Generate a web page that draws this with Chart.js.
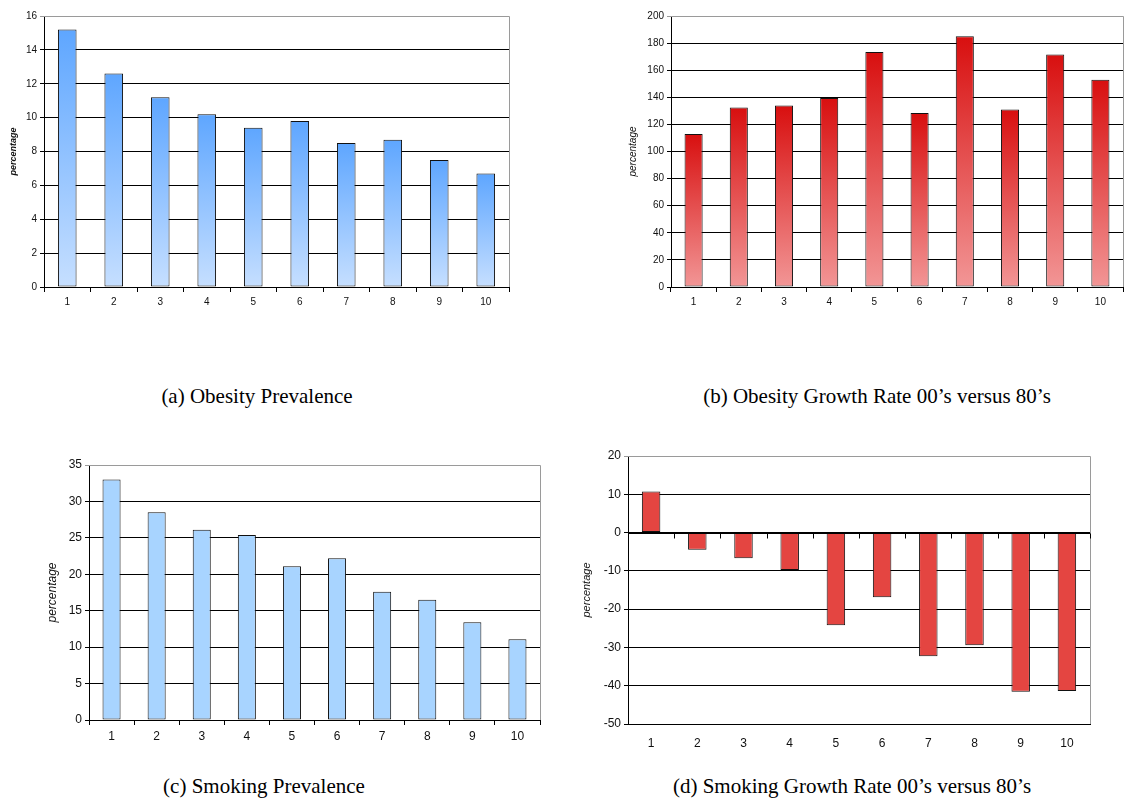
<!DOCTYPE html>
<html>
<head>
<meta charset="utf-8">
<script src="https://cdn.jsdelivr.net/npm/chart.js@4.4.1/dist/chart.umd.min.js"></script>
<style>
  body { margin: 0; background: #fff; width: 1135px; height: 799px; position: relative; overflow: hidden; }
  canvas { position: absolute; }
  .cap { position: absolute; font-family: "Liberation Serif", "Times New Roman", serif; font-size: 21px; color: #000; white-space: nowrap; transform: translate(-50%, -50%); }
</style>
</head>
<body>
<canvas id="chartA" width="525" height="310" style="left:0px;top:0px"></canvas>
<canvas id="chartB" width="545" height="310" style="left:590px;top:0px"></canvas>
<canvas id="chartC" width="520" height="310" style="left:30px;top:450px"></canvas>
<canvas id="chartD" width="530" height="320" style="left:570px;top:440px"></canvas>
<div class="cap" id="capA" style="left:257px;top:396px"></div>
<div class="cap" id="capB" style="left:877px;top:396px"></div>
<div class="cap" id="capC" style="left:264px;top:786px"></div>
<div class="cap" id="capD" style="left:852px;top:786px"></div>
<script>
// data
const groups = ['1', '2', '3', '4', '5', '6', '7', '8', '9', '10'];
const obesityPrevalence = [15.2, 12.6, 11.2, 10.2, 9.4, 9.8, 8.5, 8.7, 7.5, 6.7];
const obesityGrowth = [113, 132.5, 134, 139.5, 173.5, 128.5, 185, 131, 171.5, 153];
const smokingPrevalence = [33.0, 28.5, 26.1, 25.4, 21.1, 22.2, 17.6, 16.5, 13.4, 11.1];
const smokingGrowth = [10.7, -4.5, -6.7, -9.8, -24.2, -16.9, -32.3, -29.4, -41.6, -41.4];
const captions = [
  '(a) Obesity Prevalence',
  '(b) Obesity Growth Rate 00\u2019s versus 80\u2019s',
  '(c) Smoking Prevalence',
  '(d) Smoking Growth Rate 00\u2019s versus 80\u2019s'
];
const axisTitle = 'percentage';

document.getElementById('capA').textContent = captions[0];
document.getElementById('capB').textContent = captions[1];
document.getElementById('capC').textContent = captions[2];
document.getElementById('capD').textContent = captions[3];

// vertical gradient per bar, dark at the top, light at the base
function barGradient(top, bottom) {
  return function (c) {
    const chart = c.chart;
    if (!chart.chartArea || !c.parsed) return top;
    const y = chart.scales.y;
    const g = chart.ctx.createLinearGradient(0, y.getPixelForValue(c.parsed.y), 0, y.getPixelForValue(0));
    g.addColorStop(0, top);
    g.addColorStop(1, bottom);
    return g;
  };
}

// grey frame on top/right, and tick marks on the zero line for chart d
const framePlugin = {
  id: 'frame',
  afterDraw(chart, args, opts) {
    const a = chart.chartArea, ctx = chart.ctx;
    ctx.save();
    ctx.lineWidth = 1;
    ctx.strokeStyle = '#9a9a9a';
    ctx.beginPath();
    ctx.moveTo(a.left, Math.round(a.top) + 0.5);
    ctx.lineTo(Math.round(a.right) + 0.5, Math.round(a.top) + 0.5);
    ctx.lineTo(Math.round(a.right) + 0.5, Math.round(a.bottom));
    ctx.stroke();
    if (opts.zeroTicks) {
      const xs = chart.scales.x, y0 = Math.round(chart.scales.y.getPixelForValue(0)) + 0.5;
      ctx.strokeStyle = '#000';
      ctx.beginPath();
      ctx.moveTo(a.left, y0);
      ctx.lineTo(a.right, y0);
      for (let i = 0; i <= groups.length; i++) {
        const x = Math.round(xs.getPixelForValue(i - 0.5)) + 0.5;
        ctx.moveTo(x, y0);
        ctx.lineTo(x, y0 + 5);
      }
      ctx.stroke();
    }
    ctx.restore();
  }
};

function makeChart(id, values, o) {
  return new Chart(document.getElementById(id), {
    type: 'bar',
    data: {
      labels: groups,
      datasets: [{
        data: values,
        backgroundColor: o.color,
        borderColor: '#111',
        borderWidth: 1,
        borderSkipped: false,
        barPercentage: 0.4,
        categoryPercentage: 1
      }]
    },
    plugins: [framePlugin],
    options: {
      responsive: false,
      animation: false,
      devicePixelRatio: 1,
      layout: { padding: { top: o.top, right: o.right, left: 0, bottom: 0 } },
      plugins: {
        legend: { display: false },
        tooltip: { enabled: false },
        frame: { zeroTicks: !!o.zeroTicks }
      },
      scales: {
        x: {
          afterFit: s => { s.height = o.xHeight; },
          grid: { drawOnChartArea: false, drawTicks: !o.zeroTicks, tickLength: 5, color: '#000', offset: true },
          border: { color: '#000' },
          ticks: { color: '#111', font: { family: 'Liberation Sans', size: o.xFont }, padding: o.xPad }
        },
        y: {
          min: o.min, max: o.max,
          afterFit: s => { s.width = o.yWidth; },
          grid: {
            color: c => (c.tick && c.tick.value === o.max) ? '#9a9a9a' : '#000',
            tickLength: 4
          },
          border: { color: '#000' },
          ticks: { stepSize: o.step, color: '#111', font: { family: 'Liberation Sans', size: o.yFont }, padding: 3 },
          title: {
            display: true,
            text: axisTitle,
            color: '#111',
            font: { family: 'Liberation Sans', size: o.titleSize, style: 'italic', weight: o.titleWeight },
            padding: { top: o.titlePad, bottom: 0 }
          }
        }
      }
    }
  });
}

makeChart('chartA', obesityPrevalence, {
  color: barGradient('#5ea6ff', '#c6dfff'),
  min: 0, max: 16, step: 2,
  top: 16, right: 16, yWidth: 44, xHeight: 23,
  xFont: 10, yFont: 10, xPad: 4,
  titleSize: 9, titleWeight: 'bold', titlePad: 8
});

makeChart('chartB', obesityGrowth, {
  color: barGradient('#d80f0f', '#f29696'),
  min: 0, max: 200, step: 20,
  top: 16, right: 12, yWidth: 81, xHeight: 23,
  xFont: 10, yFont: 10, xPad: 4,
  titleSize: 10, titleWeight: 'normal', titlePad: 37
});

makeChart('chartC', smokingPrevalence, {
  color: '#a8d4ff',
  min: 0, max: 35, step: 5,
  top: 15, right: 10, yWidth: 59, xHeight: 40,
  xFont: 12, yFont: 12, xPad: 4,
  titleSize: 12, titleWeight: 'normal', titlePad: 15
});

makeChart('chartD', smokingGrowth, {
  color: '#e44541',
  min: -50, max: 20, step: 10,
  top: 16, right: 10, yWidth: 58, xHeight: 36,
  xFont: 12, yFont: 12, xPad: 12,
  titleSize: 11, titleWeight: 'normal', titlePad: 10,
  zeroTicks: true
});
</script>
</body>
</html>
